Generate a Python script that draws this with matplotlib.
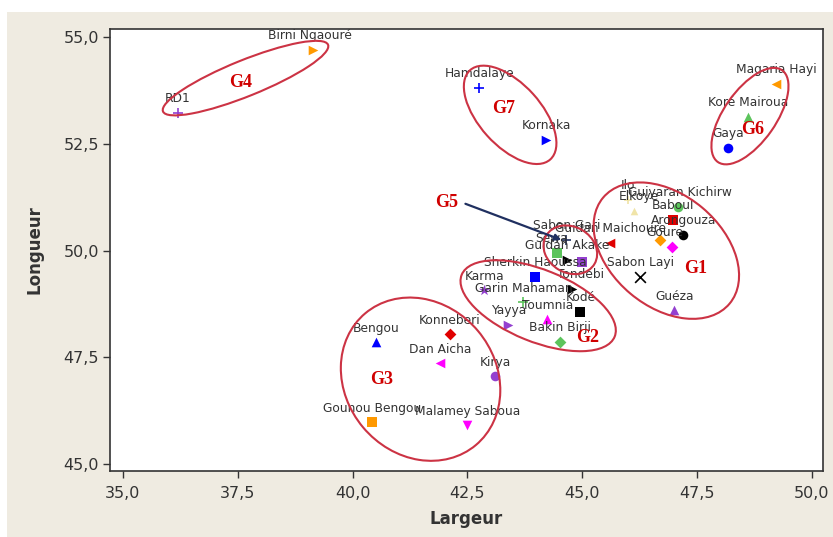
import matplotlib
matplotlib.use("Agg")
import matplotlib.pyplot as plt
from matplotlib.patches import Ellipse, Rectangle
from matplotlib.transforms import ScaledTranslation

# ---------------- data ----------------
names = ["RD1", "Birni Ngaouré", "Hamdalaye", "Kornaka", "Magaria Hayi", "Koré Mairoua", "Gaya",
         "Bengou", "Konneberi", "Dan Aicha", "Kirya", "Gounou Bengou", "Malamey Saboua",
         "Karma", "Sherkin Haoussa", "Garin Mahaman", "Tondebi", "Kodé", "Toumnia", "Yayya", "Bakin Birji",
         "Sewa", "Guidan Akake", "", "Sabon Gari", "Guidan Maichoure",
         "Ilo", "Elkoye", "Guiyaran Kichirw", "Baboul", "Arongouza", "", "Goure", "Sabon Layi", "Guéza"]
largeur = [36.20, 39.13, 42.76, 44.22, 49.22, 48.61, 48.17,
           40.52, 42.11, 41.91, 43.11, 40.43, 42.50,
           42.87, 43.98, 43.72, 44.78, 44.96, 44.24, 43.39, 44.52,
           44.46, 44.67, 45.00, 44.65, 45.61,
           46.00, 46.13, 47.09, 46.98, 47.20, 46.70, 46.96, 46.26, 47.00]
longueur = [53.22, 54.70, 53.81, 52.59, 53.90, 53.13, 52.41,
            47.85, 48.04, 47.36, 47.06, 45.98, 45.91,
            49.07, 49.39, 48.79, 49.11, 48.57, 48.39, 48.27, 47.87,
            49.95, 49.79, 49.74, 50.26, 50.19,
            51.19, 50.93, 51.03, 50.72, 50.37, 50.26, 50.09, 49.39, 48.60]

groups = ["G1", "G2", "G3", "G4", "G5", "G6", "G7"]
x_ticks = [35.0, 37.5, 40.0, 42.5, 45.0, 47.5, 50.0]
y_ticks = [45.0, 47.5, 50.0, 52.5, 55.0]

# ---------------- styles ----------------
ORANGE, BLUE, GREEN, RED, MAG, PURP, BLK, YEL, NAVY = (
    "#FF9900", "#0000FF", "#5CC45C", "#E00000", "#FF00FF", "#9440D0", "#000000", "#F0E4A8", "#203060")
styles = [("+", PURP), (">", ORANGE), ("+", BLUE), (">", BLUE), ("<", ORANGE), ("^", GREEN), ("o", BLUE),
          ("^", BLUE), ("D", RED), ("<", MAG), ("o", PURP), ("s", ORANGE), ("v", MAG),
          ("*", PURP), ("s", BLUE), ("+", GREEN), (">", BLK), ("s", BLK), ("^", MAG), (">", PURP), ("D", GREEN),
          ("s", GREEN), (">", BLK), ("s", PURP), ("+", NAVY), ("<", RED),
          ("+", YEL), ("^", YEL), ("o", GREEN), ("s", RED), ("o", BLK), ("D", ORANGE), ("D", MAG), ("x", BLK),
          ("^", PURP)]
label_dx = {"Elkoye": 3, "Goure": -5, "Sewa": -4, "Tondebi": 6, "Birni Ngaouré": -2, "Guiyaran Kichirw": 1}

BEIGE = "#EFEBE1"
fig = plt.figure(figsize=(8.33, 5.37), dpi=100, facecolor=BEIGE)
fig.patches.append(Rectangle((0, 1 - 12 / 537), 1, 12 / 537, transform=fig.transFigure,
                             facecolor="white", edgecolor="none", zorder=-10))
fig.patches.append(Rectangle((0, 0), 7 / 833, 1, transform=fig.transFigure,
                             facecolor="white", edgecolor="none", zorder=-10))
ax = fig.add_axes([110 / 833, 1 - 471 / 537, 713 / 833, 442 / 537])
ax.set_facecolor("white")
ax.set_xlim(34.72, 50.24)
ax.set_ylim(44.84, 55.19)

for i, (n, xv, yv) in enumerate(zip(names, largeur, longueur)):
    m, c = styles[i]
    lw = 1.2 if m in ("+", "x") else 0
    size = 60 if m in ("+", "x") else (70 if m == "*" else 48)
    if m == "D":
        size = 36
    if c == YEL:
        size = 30
    ax.scatter([xv], [yv], marker=m, s=size, color=c, linewidths=lw, zorder=3)
    if n:
        ax.annotate(n, (xv, yv), xytext=(label_dx.get(n, 0), 5.5), textcoords="offset points",
                    ha="center", va="bottom", fontsize=8.8, color="#333333",
                    family="DejaVu Sans", zorder=4)

# group ellipses: centre from data, size in pixels
ell_cx = [46.83, 44.04, 41.48, 37.67, 44.74, 48.65, 43.43]
ell_cy = [50.00, 48.71, 46.99, 54.04, 50.02, 53.15, 53.18]
ell_w = [165, 165, 172, 178, 56, 112, 120]
ell_h = [112, 72, 150, 36, 46, 52, 62]
ell_a = [-40, -22, -50, 22, -30, 55, -48]
for cx, cy, w, h, a in zip(ell_cx, ell_cy, ell_w, ell_h, ell_a):
    tr = fig.dpi_scale_trans + ScaledTranslation(cx, cy, ax.transData)
    ax.add_patch(Ellipse((0, 0), w / 100, h / 100, angle=a, transform=tr, fill=False,
                         edgecolor="#CC3344", linewidth=1.5, zorder=5))

g_x = [47.46, 45.11, 40.63, 37.57, 42.04, 48.70, 43.28]
g_y = [49.58, 47.97, 46.99, 53.93, 51.12, 52.83, 53.34]
for g, gx, gy in zip(groups, g_x, g_y):
    ax.text(gx, gy, g, color="#D00000", fontsize=13, family="Liberation Serif", fontweight="bold",
            ha="center", va="center", zorder=6)

ax.annotate("", xy=(44.60, 50.23), xytext=(42.40, 51.12),
            arrowprops=dict(arrowstyle="-|>", color=NAVY, lw=1.6, mutation_scale=9), zorder=6)

ax.set_xticks(x_ticks)
ax.set_yticks(y_ticks)
ax.set_xticklabels([f"{t:.1f}".replace(".", ",") for t in x_ticks])
ax.set_yticklabels([f"{t:.1f}".replace(".", ",") for t in y_ticks])
ax.tick_params(direction="out", length=5, width=1, color="#333333", labelsize=11.5,
               labelcolor="#333333")
ax.tick_params(axis="x", pad=6)
ax.tick_params(axis="y", pad=3)
for s in ax.spines.values():
    s.set_color("#333333")
    s.set_linewidth(1.2)
ax.set_xlabel("Largeur", fontsize=12, fontweight="bold", color="#333333", labelpad=6)
ax.set_ylabel("Longueur", fontsize=12, fontweight="bold", color="#333333", labelpad=14)

fig.savefig("out.png", dpi=100, facecolor=fig.get_facecolor())
